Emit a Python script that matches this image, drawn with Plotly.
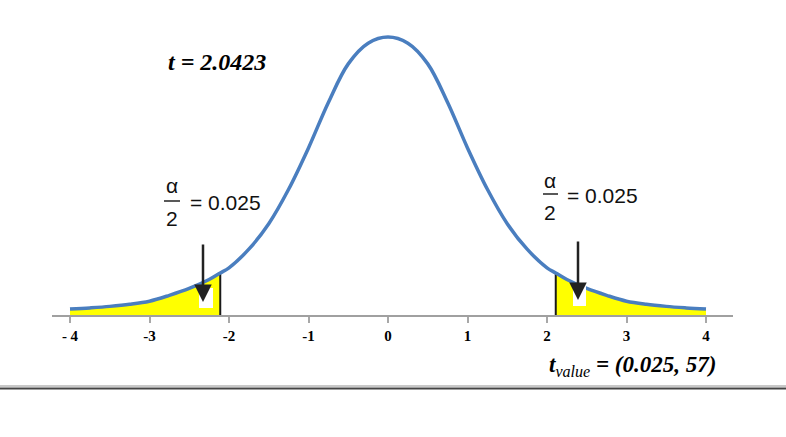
import plotly.graph_objects as go

# ---- data ----
t_pos = [0, 0.25, 0.5, 0.75, 1.0, 1.25, 1.5, 1.75, 2.0, 2.11, 2.25, 2.5, 2.75, 3.0, 3.25, 3.5, 3.75, 4.0]
dens_pos = [0.397, 0.388, 0.358, 0.302, 0.236, 0.176, 0.126, 0.089, 0.062, 0.0545, 0.045, 0.032,
            0.022, 0.0135, 0.009, 0.006, 0.0038, 0.002]
tail_edge = 2.11          # position of the critical lines as drawn
t_stat_text = "2.0423"
alpha_half_text = "0.025"
df_text = "57"
tick_vals = [-4, -3, -2, -1, 0, 1, 2, 3, 4]
tick_text = ["- 4", "-3", "-2", "-1", "0", "1", "2", "3", "4"]

t_vals = [-t for t in reversed(t_pos[1:])] + t_pos
dens = list(reversed(dens_pos[1:])) + dens_pos

# ---- layout geometry ----
W, H = 786, 437
ML, MR, MT, MB = 52, 53, 20, 122
X_MIN, X_MAX = -4.2264, 4.3396
Y_MIN, Y_MAX = -0.00653, 0.42169
PW, PH = W - ML - MR, H - MT - MB


def xp(px):
    return (px - ML) / PW


def yp(py):
    return (H - MB - py) / PH


edge_d = dens[t_vals.index(tail_edge)]
left_t = [t for t in t_vals if t <= -tail_edge]
left_d = [d for t, d in zip(t_vals, dens) if t <= -tail_edge]
right_t = [t for t in t_vals if t >= tail_edge]
right_d = [d for t, d in zip(t_vals, dens) if t >= tail_edge]

YELLOW = "#ffff00"
BLUE = "#4a7ebf"

fig = go.Figure()
fig.add_trace(go.Scatter(x=left_t + [-tail_edge, left_t[0]], y=left_d + [Y_MIN, Y_MIN],
                         fill="toself", fillcolor=YELLOW, mode="lines", line=dict(width=0),
                         hoverinfo="skip"))
fig.add_trace(go.Scatter(x=right_t + [right_t[-1], tail_edge], y=right_d + [Y_MIN, Y_MIN],
                         fill="toself", fillcolor=YELLOW, mode="lines", line=dict(width=0),
                         hoverinfo="skip"))
for sgn in (-1, 1):
    fig.add_trace(go.Scatter(x=[sgn * tail_edge, sgn * tail_edge], y=[Y_MIN, edge_d],
                             mode="lines", line=dict(color="#1a1a1a", width=2), hoverinfo="skip"))
fig.add_trace(go.Scatter(x=t_vals, y=dens, mode="lines",
                         line=dict(color=BLUE, width=3.5, shape="spline", smoothing=1.0)))

shapes = []
# white boxes around arrow heads
for (x0, y0, x1, y1) in [(199, 288, 213, 308), (573, 286, 586, 306)]:
    shapes.append(dict(type="rect", xref="paper", yref="paper", x0=xp(x0), x1=xp(x1),
                       y0=yp(y1), y1=yp(y0), fillcolor="white", line=dict(width=0), layer="above"))
# fraction bars
for (x0, x1, y) in [(164, 180, 201), (543, 558, 194)]:
    shapes.append(dict(type="line", xref="paper", yref="paper", x0=xp(x0), x1=xp(x1),
                       y0=yp(y), y1=yp(y), line=dict(color="#222", width=1.5)))
# bottom rule
shapes.append(dict(type="line", xref="paper", yref="paper", x0=xp(0), x1=xp(W),
                   y0=yp(386), y1=yp(386), line=dict(color="#c8c8c8", width=2)))
shapes.append(dict(type="line", xref="paper", yref="paper", x0=xp(0), x1=xp(W),
                   y0=yp(388.5), y1=yp(388.5), line=dict(color="#444444", width=2)))

ann = []
SERIF = "Liberation Serif"
SANS = "Liberation Sans"
ann.append(dict(xref="paper", yref="paper", x=xp(217), y=yp(62), showarrow=False,
                text="<b><i>t = " + t_stat_text + "</i></b>", xanchor="center", yanchor="middle",
                font=dict(family=SERIF, size=24, color="black")))
ann.append(dict(xref="paper", yref="paper", x=xp(632), y=yp(366), showarrow=False,
                text="<b><i>t</i></b><i><sub>value</sub></i><b><i> = (" + alpha_half_text + ", " + df_text + ")</i></b>",
                xanchor="center", yanchor="middle",
                font=dict(family=SERIF, size=23, color="black")))
for (ax_, ay_, ty2, ex, ey) in [(172, 185, 218, 188, 202), (550, 180, 212, 565, 195)]:
    ann.append(dict(xref="paper", yref="paper", x=xp(ax_), y=yp(ay_), showarrow=False, text="α",
                    xanchor="center", yanchor="middle", font=dict(family=SANS, size=21, color="#111")))
    ann.append(dict(xref="paper", yref="paper", x=xp(ax_), y=yp(ty2), showarrow=False, text="2",
                    xanchor="center", yanchor="middle", font=dict(family=SANS, size=21, color="#111")))
    ann.append(dict(xref="paper", yref="paper", x=xp(ex), y=yp(ey), showarrow=False,
                    text="= " + alpha_half_text, xanchor="left", yanchor="middle",
                    font=dict(family=SANS, size=21, color="#111")))
# arrows
for (tx, ty, length) in [(203, 302, 59), (578, 300, 60)]:
    ann.append(dict(xref="paper", yref="paper", x=xp(tx), y=yp(ty), ax=0, ay=-length, text="",
                    showarrow=True, arrowhead=2, arrowsize=1.4, arrowwidth=2.5, arrowcolor="#222"))

fig.update_layout(
    width=W, height=H, margin=dict(l=ML, r=MR, t=MT, b=MB),
    paper_bgcolor="white", plot_bgcolor="white", showlegend=False,
    xaxis=dict(range=[X_MIN, X_MAX], showline=True, linecolor="#a0a0a0", linewidth=2,
               ticks="outside", ticklen=6, tickwidth=2, tickcolor="#a8a8a8",
               tickvals=tick_vals, ticktext=tick_text,
               tickfont=dict(family=SERIF, size=15, color="black", weight="bold"),
               showgrid=False, zeroline=False, fixedrange=True),
    yaxis=dict(range=[Y_MIN, Y_MAX], visible=False, fixedrange=True),
    shapes=shapes, annotations=ann,
)

fig.write_html("out.html", config={"displayModeBar": False},
               post_script="document.body.style.margin='0';")
